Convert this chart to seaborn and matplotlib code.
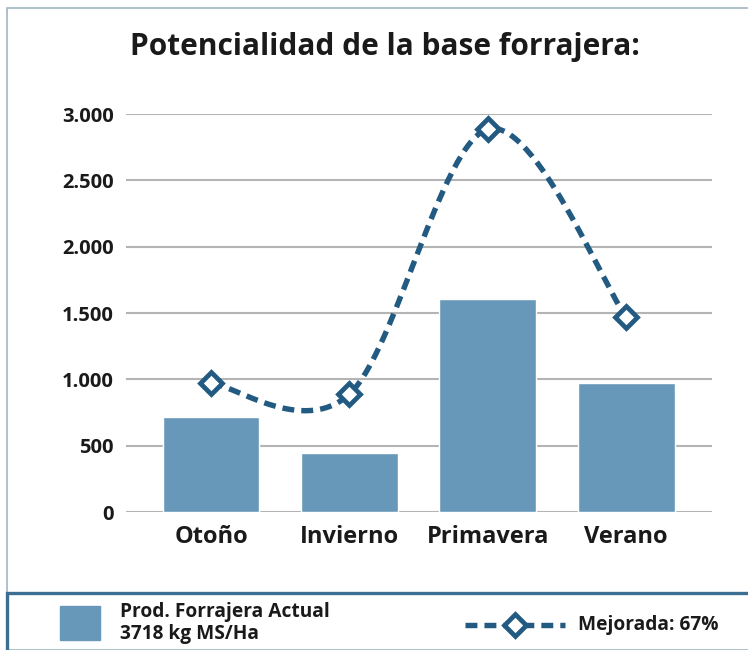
import numpy as np
import pandas as pd
import matplotlib
matplotlib.use("Agg")
import matplotlib.pyplot as plt
from matplotlib.patches import Rectangle
from matplotlib.lines import Line2D
import seaborn as sns

# data
seasons = ["Otoño", "Invierno", "Primavera", "Verano"]
actual = [716, 445, 1605, 972]
mejorada = [972, 889, 2886, 1470]
y_ticks = [0, 500, 1000, 1500, 2000, 2500, 3000]
y_labels = ["0", "500", "1.000", "1.500", "2.000", "2.500", "3.000"]

BAR = "#6798b9"
LINE = "#225a82"
GRID = "#b4b4b4"

sns.set_theme(style="white")
plt.rcParams["font.family"] = ["Open Sans", "DejaVu Sans"]


def smooth(xs, ys, n=60):
    # excel-like smoothed line: cubic bezier segments with catmull-rom control points
    pts = np.column_stack([xs, ys]).astype(float)
    ext = np.vstack([pts[0], pts, pts[-1]])
    out = []
    for i in range(len(pts) - 1):
        p0, p1 = ext[i + 1], ext[i + 2]
        c1 = p0 + (ext[i + 2] - ext[i]) / 6
        c2 = p1 - (ext[i + 3] - ext[i + 1]) / 6
        t = np.linspace(0, 1, n)[:, None]
        seg = (1 - t) ** 3 * p0 + 3 * (1 - t) ** 2 * t * c1 + 3 * (1 - t) * t ** 2 * c2 + t ** 3 * p1
        out.append(seg if i == 0 else seg[1:])
    out = np.vstack(out)
    return out[:, 0], out[:, 1]


df = pd.DataFrame({"season": seasons, "actual": actual, "mejorada": mejorada})

fig = plt.figure(figsize=(7.48, 6.5), dpi=100)
ax = fig.add_axes([0.1684, 0.2123, 0.7834, 0.6123])

sns.barplot(data=df, x="season", y="actual", color=BAR, saturation=1, width=0.70, ax=ax, zorder=2)

xs = np.arange(len(seasons))
sx, sy = smooth(xs, df["mejorada"].values)
ax.plot(sx, sy, color=LINE, lw=3.9, dashes=(2.2, 1.3), zorder=3, clip_on=False)
ax.plot(xs, df["mejorada"], ls="none", marker="D", ms=11, mfc="white", mec=LINE, mew=3.4,
        zorder=4, clip_on=False)

ax.set_xlim(-0.615, 3.62)
ax.set_ylim(0, 3000)
ax.set_yticks(y_ticks)
ax.set_yticklabels(y_labels, fontsize=14.5, fontweight="bold", color="#1a1a1a")
ax.set_xticks(xs)
ax.set_xticklabels(seasons, fontsize=17, fontweight="bold", color="#1a1a1a")
ax.tick_params(axis="y", length=0, pad=9)
ax.tick_params(axis="x", length=0, pad=9)
ax.set_xlabel("")
ax.set_ylabel("")
for y in y_ticks:
    ax.axhline(y, color=GRID, lw=1.5, zorder=1)
sns.despine(ax=ax, left=True, bottom=True)

fig.text(0.515, 0.928, "Potencialidad de la base forrajera:", ha="center", va="center",
         fontsize=21.5, fontweight="bold", color="#1a1a1a")

# outer frame and legend box
fig.patches.append(Rectangle((7 / 748, 0), 1.2, (650 - 8) / 650, transform=fig.transFigure,
                             fill=False, ec="#9fb7c3", lw=1.2))
fig.patches.append(Rectangle((7 / 748, -0.05), 1.2, (650 - 593) / 650 + 0.05, transform=fig.transFigure,
                             fill=False, ec="#3d6f93", lw=2.4))

# legend
fig.patches.append(Rectangle((60 / 748, (650 - 640) / 650), 40 / 748, 34 / 650,
                             transform=fig.transFigure, color=BAR))
fig.text(120 / 748, (650 - 623) / 650, "Prod. Forrajera Actual\n3718 kg MS/Ha", ha="left", va="center",
         fontsize=13.8, fontweight="bold", color="#1a1a1a", linespacing=1.1)
ly = (650 - 625) / 650
fig.lines.append(Line2D([465 / 748, 565 / 748], [ly, ly], transform=fig.transFigure, color=LINE,
                        lw=3.9, dashes=(2.2, 1.3)))
fig.lines.append(Line2D([515 / 748], [ly], transform=fig.transFigure, ls="none", marker="D", ms=11,
                        mfc="white", mec=LINE, mew=3.4))
fig.text(578 / 748, ly, "Mejorada: 67%", ha="left", va="center",
         fontsize=13.8, fontweight="bold", color="#1a1a1a")

fig.savefig("out.png", dpi=100)
